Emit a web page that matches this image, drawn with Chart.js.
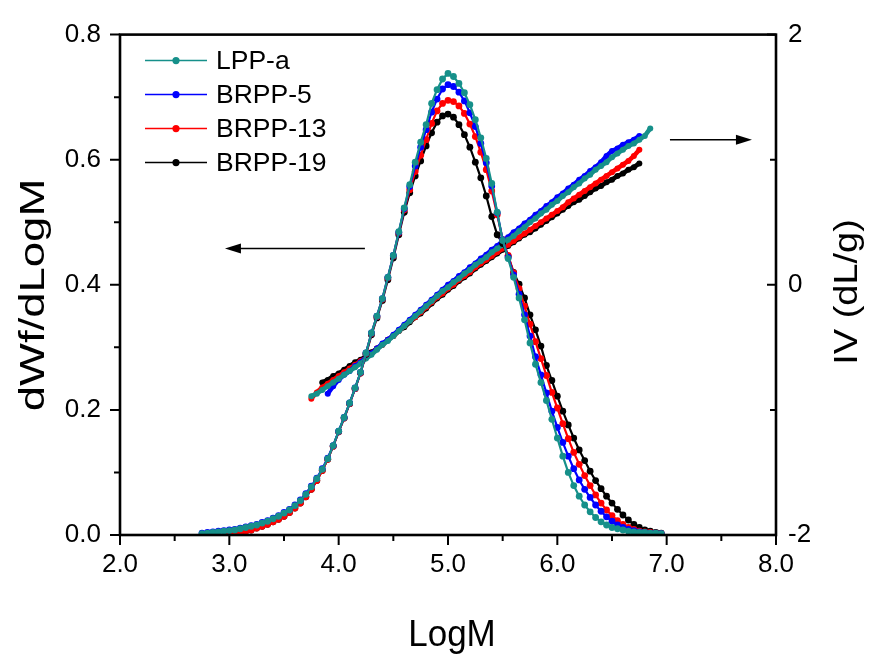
<!DOCTYPE html>
<html><head><meta charset="utf-8">
<script src="https://cdn.jsdelivr.net/npm/chart.js@4/dist/chart.umd.min.js"></script>
<style>html,body{margin:0;padding:0;background:#fff}#wrap{width:872px;height:663px}</style>
</head><body><div id="wrap"><canvas id="c" width="872" height="663"></canvas></div>
<script>
// ---------- DATA ----------
const seriesNames = ['LPP-a', 'BRPP-5', 'BRPP-13', 'BRPP-19'];

// LogM grid for the distribution curves (dWf/dLogM, left axis)
const logM_dist = [2.75,2.80,2.85,2.90,2.95,3.00,3.05,3.10,3.15,3.20,3.25,3.30,3.35,3.40,3.45,3.50,3.55,3.60,3.65,3.70,
  3.75,3.80,3.85,3.90,3.95,4.00,4.05,4.10,4.15,4.20,4.25,4.30,4.35,4.40,4.45,4.50,4.55,4.60,4.65,4.70,
  4.75,4.80,4.85,4.90,4.95,5.00,5.05,5.10,5.15,5.20,5.25,5.30,5.35,5.40,5.45,5.50,5.55,5.60,5.65,5.70,
  5.75,5.80,5.85,5.90,5.95,6.00,6.05,6.10,6.15,6.20,6.25,6.30,6.35,6.40,6.45,6.50,6.55,6.60,6.65,6.70,
  6.75,6.80,6.85,6.90,6.95];

const dist_LPPa = [.002,.003,.004,.005,.006,.007,.008,.010,.012,.014,.016,.019,.022,.026,.030,.035,.040,.047,.055,.065,
  .077,.090,.105,.122,.143,.166,.188,.211,.235,.260,.291,.323,.350,.378,.412,.447,.485,.523,.560,.596,
  .628,.656,.690,.712,.729,.738,.733,.722,.707,.688,.664,.635,.602,.562,.516,.471,.442,.412,.379,.344,
  .307,.273,.244,.215,.185,.155,.126,.100,.079,.062,.048,.037,.028,.021,.016,.012,.010,.008,.006,.005,
  .004,.004,.003,.003,.002];

const dist_BRPP5 = [.003,.004,.005,.006,.007,.008,.009,.011,.013,.015,.017,.020,.023,.027,.031,.036,.041,.048,.056,.066,
  .078,.091,.106,.123,.143,.166,.188,.211,.235,.260,.291,.323,.350,.378,.412,.447,.484,.522,.557,.590,
  .620,.648,.676,.697,.713,.720,.717,.708,.694,.675,.653,.626,.595,.558,.515,.472,.444,.416,.385,.352,
  .318,.285,.256,.227,.198,.172,.148,.126,.106,.088,.073,.060,.048,.038,.029,.022,.016,.012,.009,.007,
  .005,.004,.003,.003,.002];

const dist_BRPP13 = [null,null,null,null,null,.000,.002,.004,.006,.008,.011,.014,.017,.021,.025,.030,.036,.043,.051,.061,
  .073,.087,.103,.121,.142,.165,.187,.210,.234,.259,.290,.322,.349,.377,.411,.446,.483,.520,.552,.581,
  .607,.632,.658,.678,.690,.695,.693,.686,.674,.657,.637,.612,.584,.550,.512,.472,.447,.419,.394,.366,
  .337,.309,.282,.255,.228,.203,.178,.154,.132,.113,.095,.079,.064,.051,.040,.031,.023,.017,.012,.009,
  .006,.005,.004,.003,.002];

const dist_BRPP19 = [null,null,null,null,null,.000,.002,.004,.006,.008,.011,.014,.017,.021,.025,.030,.036,.043,.051,.061,
  .073,.087,.103,.121,.142,.165,.187,.210,.234,.259,.289,.320,.347,.375,.408,.443,.480,.516,.547,.574,
  .598,.622,.643,.660,.670,.673,.668,.656,.640,.620,.596,.571,.542,.509,.480,.466,.446,.420,.401,.379,
  .352,.328,.302,.271,.247,.222,.198,.176,.155,.136,.119,.102,.087,.074,.062,.051,.041,.032,.024,.017,
  .012,.008,.006,.004,.003];

// LogM grid for the intrinsic viscosity curves (IV, right axis)
const logM_iv = [3.75,3.80,3.85,3.90,3.95,4.00,4.05,4.10,4.15,4.20,4.25,4.30,4.35,4.40,4.45,4.50,4.55,4.60,4.65,4.70,
  4.75,4.80,4.85,4.90,4.95,5.00,5.05,5.10,5.15,5.20,5.25,5.30,5.35,5.40,5.45,5.50,5.55,5.60,5.65,5.70,
  5.75,5.80,5.85,5.90,5.95,6.00,6.05,6.10,6.15,6.20,6.25,6.30,6.35,6.40,6.45,6.50,6.55,6.60,6.65,6.70,
  6.75,6.80,6.85];

const iv_LPPa = [-0.89,-0.87,-0.84,-0.81,-0.78,-0.75,-0.72,-0.69,-0.66,-0.63,-0.59,-0.56,-0.52,-0.48,-0.45,-0.41,-0.37,-0.33,-0.29,-0.25,
  -0.21,-0.17,-0.13,-0.09,-0.05,-0.02,0.02,0.05,0.09,0.12,0.16,0.19,0.22,0.26,0.29,0.32,0.36,0.39,0.43,0.46,
  0.50,0.53,0.57,0.60,0.64,0.67,0.71,0.74,0.78,0.81,0.85,0.88,0.92,0.95,0.98,1.02,1.05,1.08,1.11,1.13,
  1.16,1.19,1.25];

const iv_BRPP5 = [null,null,null,-0.87,-0.81,-0.76,-0.72,-0.69,-0.65,-0.62,-0.58,-0.55,-0.51,-0.47,-0.44,-0.40,-0.36,-0.32,-0.28,-0.24,
  -0.20,-0.16,-0.12,-0.08,-0.04,0.00,0.03,0.07,0.10,0.14,0.17,0.21,0.24,0.28,0.31,0.35,0.38,0.42,0.45,0.49,
  0.52,0.56,0.59,0.63,0.66,0.70,0.73,0.77,0.80,0.84,0.87,0.91,0.94,0.98,1.03,1.07,1.09,1.12,1.14,1.16,
  1.19,null,null];

const iv_BRPP13 = [-0.91,-0.86,-0.82,-0.79,-0.76,-0.73,-0.70,-0.67,-0.64,-0.61,-0.58,-0.55,-0.51,-0.48,-0.44,-0.41,-0.37,-0.33,-0.29,-0.26,
  -0.22,-0.18,-0.14,-0.10,-0.07,-0.03,0.00,0.04,0.07,0.10,0.14,0.17,0.20,0.23,0.26,0.29,0.32,0.35,0.38,0.41,
  0.44,0.47,0.50,0.53,0.56,0.59,0.62,0.66,0.69,0.72,0.75,0.78,0.81,0.84,0.87,0.90,0.93,0.96,0.99,1.03,
  1.08,null,null];

const iv_BRPP19 = [null,null,-0.78,-0.76,-0.73,-0.71,-0.68,-0.65,-0.62,-0.60,-0.57,-0.54,-0.51,-0.48,-0.44,-0.41,-0.37,-0.34,-0.30,-0.26,
  -0.23,-0.19,-0.15,-0.11,-0.08,-0.04,-0.01,0.03,0.06,0.09,0.13,0.16,0.19,0.22,0.25,0.28,0.31,0.34,0.37,0.40,
  0.42,0.45,0.48,0.51,0.54,0.57,0.60,0.63,0.66,0.68,0.71,0.74,0.77,0.79,0.82,0.84,0.87,0.89,0.92,0.94,
  0.97,null,null];

// Tick values
const xMajorTicks = [2, 3, 4, 5, 6, 7, 8];
const xMinorTicks = [2.5, 3.5, 4.5, 5.5, 6.5, 7.5];
const yLeftMajorTicks = [0, 0.2, 0.4, 0.6, 0.8];
const yLeftMinorTicks = [0.1, 0.3, 0.5, 0.7];
const yRightMajorTicks = [-2, 0, 2];
const yRightMinorTicks = [-1, 1];

// ---------- STYLE ----------
const colors = ['#16908a', '#0000ff', '#ff0000', '#000000'];
const FONT = "'Liberation Sans', Arial, sans-serif";

function toPts(xs, ys) {
  const out = [];
  xs.forEach((x, i) => { if (ys[i] !== null && ys[i] !== undefined) out.push({x: x, y: ys[i]}); });
  return out;
}

const distSeries = [dist_LPPa, dist_BRPP5, dist_BRPP13, dist_BRPP19];
const ivSeries = [iv_LPPa, iv_BRPP5, iv_BRPP13, iv_BRPP19];

const datasets = [];
distSeries.forEach((d, i) => datasets.push({
  label: seriesNames[i], data: toPts(logM_dist, d), yAxisID: 'y',
  showLine: true, borderColor: colors[i], backgroundColor: colors[i], borderWidth: 2.2,
  pointRadius: 3.4, pointBorderWidth: 0, pointBackgroundColor: colors[i], tension: 0
}));
ivSeries.forEach((d, i) => datasets.push({
  label: seriesNames[i] + ' IV', data: toPts(logM_iv, d), yAxisID: 'y2',
  showLine: true, borderColor: colors[i], backgroundColor: colors[i], borderWidth: 4.5,
  pointRadius: 3, pointBorderWidth: 0, pointBackgroundColor: colors[i], tension: 0
}));

function arrow(ctx, x1, y1, x2, y2) {
  ctx.save();
  ctx.strokeStyle = '#000'; ctx.fillStyle = '#000'; ctx.lineWidth = 1.6;
  const dir = Math.sign(x2 - x1);
  ctx.beginPath(); ctx.moveTo(x1, y1); ctx.lineTo(x2 - dir * 10, y2); ctx.stroke();
  ctx.beginPath(); ctx.moveTo(x2, y2); ctx.lineTo(x2 - dir * 16, y2 - 5); ctx.lineTo(x2 - dir * 16, y2 + 5); ctx.closePath(); ctx.fill();
  ctx.restore();
}

function stretchedText(ctx, text, cx, cy, size, rot, along, across) {
  ctx.save();
  ctx.translate(cx, cy);
  ctx.rotate(rot);
  ctx.scale(along, across);
  ctx.font = size + 'px ' + FONT;
  ctx.textAlign = 'center'; ctx.textBaseline = 'middle'; ctx.fillStyle = '#000';
  ctx.fillText(text, 0, 0);
  ctx.restore();
}

const decorPlugin = {
  id: 'decor',
  afterDatasetsDraw(chart) {
    const ctx = chart.ctx, a = chart.chartArea;
    const sx = chart.scales.x, sy = chart.scales.y, sy2 = chart.scales.y2;
    ctx.save();
    ctx.strokeStyle = '#000'; ctx.lineWidth = 2.6;
    ctx.strokeRect(a.left, a.top, a.right - a.left, a.bottom - a.top);
    ctx.lineWidth = 2;
    ctx.beginPath();
    xMajorTicks.forEach(v => { const p = sx.getPixelForValue(v); ctx.moveTo(p, a.bottom); ctx.lineTo(p, a.bottom + 10); });
    xMinorTicks.forEach(v => { const p = sx.getPixelForValue(v); ctx.moveTo(p, a.bottom); ctx.lineTo(p, a.bottom + 6); });
    yLeftMajorTicks.forEach(v => { const p = sy.getPixelForValue(v); ctx.moveTo(a.left, p); ctx.lineTo(a.left - 10, p); });
    yLeftMinorTicks.forEach(v => { const p = sy.getPixelForValue(v); ctx.moveTo(a.left, p); ctx.lineTo(a.left - 6, p); });
    yRightMajorTicks.forEach(v => { const p = sy2.getPixelForValue(v); ctx.moveTo(a.right, p); ctx.lineTo(a.right - 9, p); });
    yRightMinorTicks.forEach(v => { const p = sy2.getPixelForValue(v); ctx.moveTo(a.right, p); ctx.lineTo(a.right - 6, p); });
    ctx.stroke();

    // arrows (annotation, in data units)
    arrow(ctx, sx.getPixelForValue(4.24), sy.getPixelForValue(0.458), sx.getPixelForValue(2.96), sy.getPixelForValue(0.458));
    arrow(ctx, sx.getPixelForValue(7.03), sy.getPixelForValue(0.632), sx.getPixelForValue(7.78), sy.getPixelForValue(0.632));

    // legend
    ctx.font = '26.5px ' + FONT; ctx.textBaseline = 'middle'; ctx.textAlign = 'left';
    seriesNames.forEach((n, i) => {
      const y = a.top + 26 + i * 34;
      ctx.strokeStyle = colors[i]; ctx.lineWidth = 1.5;
      ctx.beginPath(); ctx.moveTo(a.left + 25, y); ctx.lineTo(a.left + 87, y); ctx.stroke();
      ctx.fillStyle = colors[i];
      ctx.beginPath(); ctx.arc(a.left + 56, y, 3.6, 0, Math.PI * 2); ctx.fill();
      ctx.fillStyle = '#000';
      ctx.fillText(n, a.left + 96, y + 1);
    });
    ctx.restore();

    // axis titles
    stretchedText(ctx, 'LogM', 452, 636, 35, 0, 1.0, 1.05);
    stretchedText(ctx, 'dWf/dLogM', 34, 295, 35, -Math.PI / 2, 1.3, 1.0);
    stretchedText(ctx, 'IV (dL/g)', 848, 292, 33, -Math.PI / 2, 1.15, 1.0);
  }
};

new Chart(document.getElementById('c'), {
  type: 'scatter',
  data: { datasets: datasets },
  options: {
    responsive: false, animation: false,
    layout: { padding: { top: 29, left: 0, right: 0, bottom: 0 } },
    plugins: { legend: { display: false }, tooltip: { enabled: false } },
    scales: {
      x: {
        type: 'linear', position: 'bottom', min: 2, max: 8,
        ticks: { stepSize: 1, color: '#000', font: { family: FONT, size: 26 }, padding: 14, maxRotation: 0,
                 callback: v => Number(v).toFixed(1) },
        grid: { display: false, drawTicks: false }, border: { display: false },
        afterFit: s => { s.height = 128; }
      },
      y: {
        type: 'linear', position: 'left', min: 0, max: 0.8,
        ticks: { stepSize: 0.2, color: '#000', font: { family: FONT, size: 26 }, padding: 19,
                 callback: v => Number(v).toFixed(1) },
        grid: { display: false, drawTicks: false }, border: { display: false },
        afterFit: s => { s.width = 120; }
      },
      y2: {
        type: 'linear', position: 'right', min: -2, max: 2,
        ticks: { stepSize: 2, color: '#000', font: { family: FONT, size: 26 }, padding: 12,
                 callback: v => String(Math.round(v)) },
        grid: { display: false, drawTicks: false }, border: { display: false },
        afterFit: s => { s.width = 96; }
      }
    }
  },
  plugins: [decorPlugin]
});
</script>
</body></html>
